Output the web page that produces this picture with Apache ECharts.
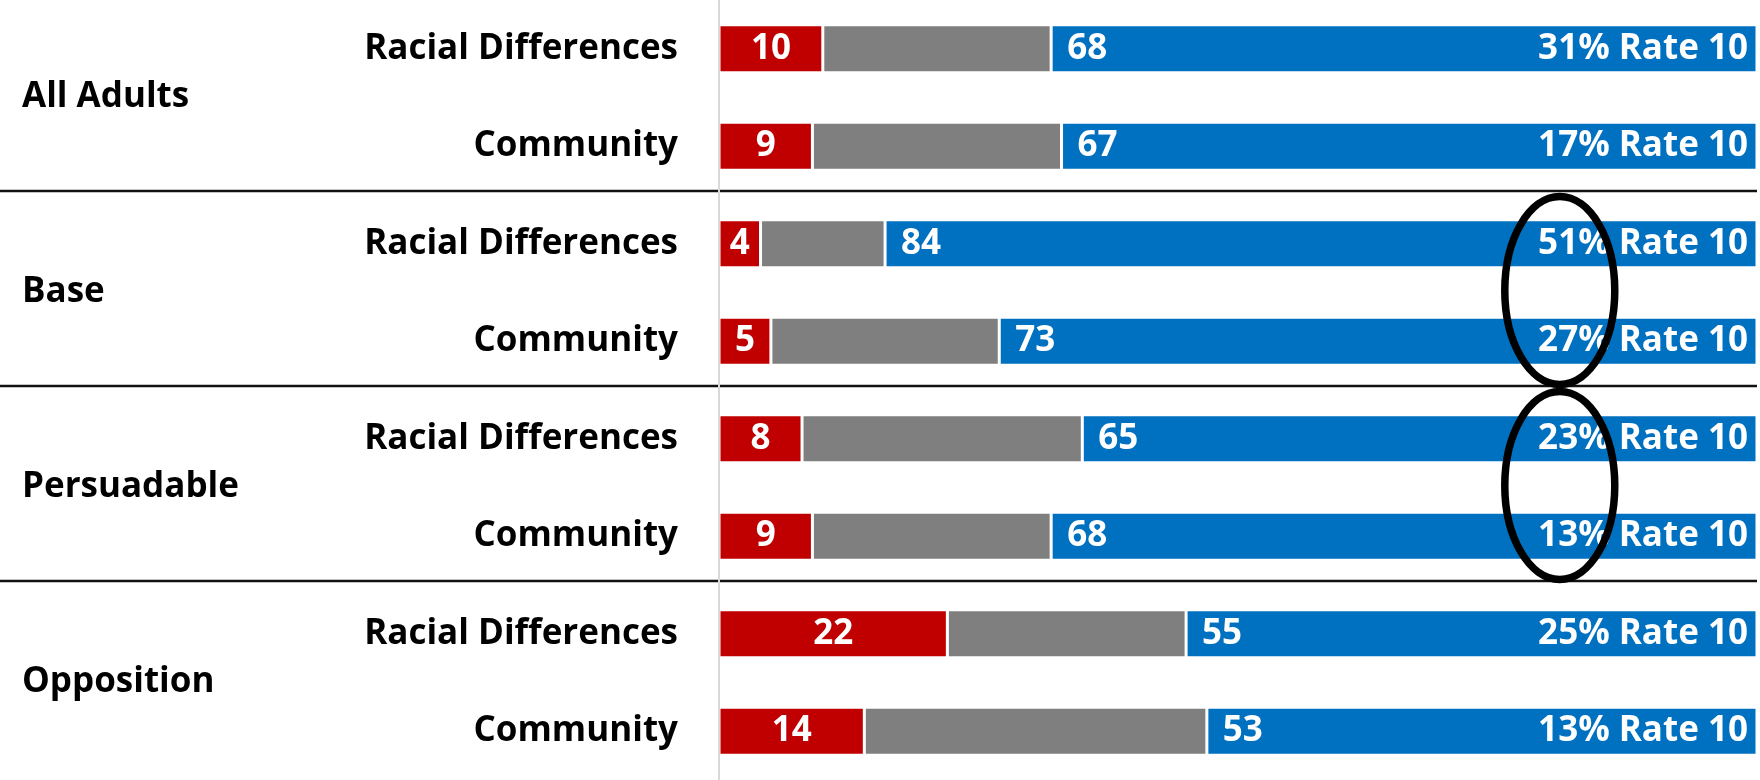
<!DOCTYPE html>
<html>
<head>
<meta charset="utf-8">
<script src="https://cdn.jsdelivr.net/npm/echarts@6/dist/echarts.min.js"></script>
<style>
  html, body { margin: 0; padding: 0; background: #fff; }
  #chart { width: 1760px; height: 780px; }
</style>
</head>
<body>
<div id="chart"></div>
<script>
// Segments, groups and row items
const groups = ['All Adults', 'Base', 'Persuadable', 'Opposition'];
const items = ['Racial Differences', 'Community'];

// One row per group × item, top to bottom
const negative = [10, 9, 4, 5, 8, 9, 22, 14];
const neutral  = [22, 24, 12, 22, 27, 23, 23, 33];
const positive = [68, 67, 84, 73, 65, 68, 55, 53];
const rate10   = [31, 17, 51, 27, 23, 13, 25, 13];

// Groups whose rate labels get circled (first row index of the pair)
const circledPairs = [2, 4];

const rowKeys = [];
groups.forEach(g => items.forEach(it => rowKeys.push(g + '|' + it)));

const FONT = '"Open Sans", Lato, sans-serif';
const FS = 35;

const chart = echarts.init(document.getElementById('chart'), null, { renderer: 'canvas' });

const labelBase = {
  show: true,
  color: '#ffffff',
  fontFamily: FONT,
  fontWeight: 'bold',
  fontSize: FS
};

const barStyle = (color) => ({
  color: color,
  borderColor: '#ffffff',
  borderWidth: 1.5
});

chart.setOption({
  animation: false,
  backgroundColor: '#ffffff',
  grid: { left: 719, right: 3, top: 0, bottom: 0, containLabel: false },
  xAxis: {
    type: 'value',
    min: 0,
    max: 100,
    show: false
  },
  yAxis: [
    {
      type: 'category',
      inverse: true,
      data: rowKeys,
      axisLine: { show: true, lineStyle: { color: '#d9d9d9', width: 2 } },
      axisTick: { show: false },
      splitLine: { show: false },
      axisLabel: {
        margin: 41,
        color: '#000000',
        fontFamily: FONT,
        fontWeight: 'bold',
        fontSize: FS,
        formatter: v => v.split('|')[1]
      },
      z: 5
    },
    {
      type: 'category',
      inverse: true,
      position: 'left',
      data: groups,
      axisLine: { show: false },
      axisTick: { show: false },
      splitLine: { show: false },
      axisLabel: {
        align: 'left',
        margin: 697,
        padding: [0, 0, 22, 0],
        color: '#000000',
        fontFamily: FONT,
        fontWeight: 'bold',
        fontSize: FS
      }
    }
  ],
  series: [
    {
      name: 'Negative',
      type: 'bar',
      stack: 'total',
      barWidth: '49%',
      data: negative,
      itemStyle: barStyle('#c00000'),
      label: Object.assign({}, labelBase, { position: 'inside' })
    },
    {
      name: 'Neutral',
      type: 'bar',
      stack: 'total',
      data: neutral,
      itemStyle: barStyle('#7f7f7f'),
      label: { show: false }
    },
    {
      name: 'Positive',
      type: 'bar',
      stack: 'total',
      data: positive,
      itemStyle: barStyle('#0070c0'),
      label: Object.assign({}, labelBase, { position: 'insideLeft', distance: 16 })
    },
    {
      name: 'Rate 10',
      type: 'scatter',
      symbolSize: 0,
      z: 10,
      itemStyle: { opacity: 1 },
      data: rowKeys.map((k, i) => [negative[i] + neutral[i] + positive[i], i]),
      label: Object.assign({}, labelBase, {
        position: 'left',
        distance: 9,
        opacity: 1,
        formatter: p => rate10[p.dataIndex] + '% Rate 10'
      })
    }
  ]
});

// Group separators and circled annotations, placed from the axis scales
function drawOverlay() {
  const yPix = i => chart.convertToPixel({ yAxisIndex: 0 }, i);
  const xPix = v => chart.convertToPixel({ xAxisIndex: 0 }, v);
  const right = xPix(100);
  const elements = [];
  for (let g = 1; g < groups.length; g++) {
    const last = g * items.length - 1;
    const y = (yPix(last) + yPix(last + 1)) / 2 - 4;
    elements.push({
      type: 'line',
      z: 1,
      shape: { x1: 0, y1: y, x2: right, y2: y },
      style: { stroke: '#111111', lineWidth: 2.5 }
    });
  }
  circledPairs.forEach(r => {
    const cy = (yPix(r) + yPix(r + 1)) / 2 - 2;
    elements.push({
      type: 'ellipse',
      z: 100,
      shape: { cx: xPix(81), cy: cy, rx: 55, ry: 94 },
      style: { fill: 'none', stroke: '#000000', lineWidth: 7.5 }
    });
  });
  chart.setOption({ graphic: { elements: elements } });
}
drawOverlay();
</script>
</body>
</html>
